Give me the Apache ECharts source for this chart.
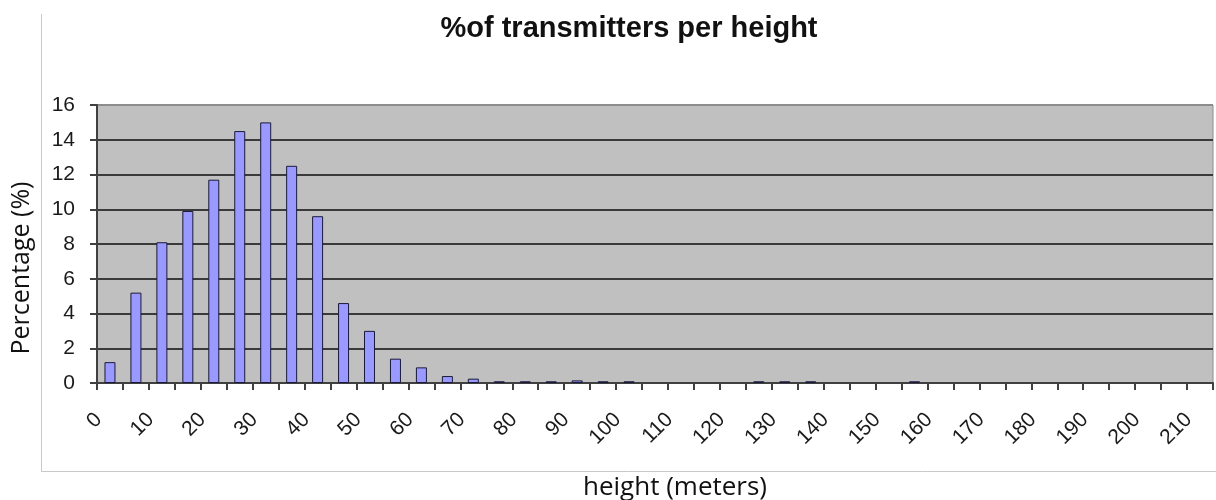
<!DOCTYPE html>
<html>
<head>
<meta charset="utf-8">
<style>
  html, body { margin: 0; padding: 0; background: #ffffff; }
  #chart { width: 1216px; height: 500px; }
</style>
<script src="https://cdn.jsdelivr.net/npm/echarts@6/dist/echarts.min.js"></script>
</head>
<body>
<div id="chart"></div>
<script>
// Transmitter heights, binned every 5 m
const heights = [
  0, 5, 10, 15, 20, 25, 30, 35, 40, 45, 50, 55, 60, 65, 70, 75, 80, 85, 90, 95,
  100, 105, 110, 115, 120, 125, 130, 135, 140, 145, 150, 155, 160, 165, 170, 175,
  180, 185, 190, 195, 200, 205, 210
];
// Share of transmitters in each bin (%); null = no transmitters in that bin
const percentages = [
  1.2, 5.2, 8.1, 9.9, 11.7, 14.5, 15.0, 12.5, 9.6, 4.6, 3.0, 1.4, 0.9, 0.4, 0.25, 0.1, 0.1, 0.1, 0.15, 0.1,
  0.1, null, null, null, null, 0.1, 0.1, 0.1, null, null, null, 0.1, null, null, null, null,
  null, null, null, null, null, null, null
];
const yTicks = { min: 0, max: 16, step: 2 };

const chart = echarts.init(document.getElementById('chart'));

const gridLineColors = ['#3a3a3a', '#3a3a3a', '#3a3a3a', '#3a3a3a', '#3a3a3a',
                        '#3a3a3a', '#3a3a3a', '#3a3a3a', '#8c8c8c'];

chart.setOption({
  animation: false,
  backgroundColor: '#ffffff',
  graphic: [
    {
      type: 'text',
      x: 629, y: 29,
      style: {
        text: '%of transmitters per height',
        fontFamily: '"Liberation Sans", Arial, sans-serif',
        fontWeight: 'bold',
        fontSize: 29,
        fill: '#111111',
        align: 'center',
        verticalAlign: 'middle'
      }
    },
    {
      type: 'line',
      shape: { x1: 41.5, y1: 14, x2: 41.5, y2: 471.5 },
      style: { stroke: '#c8c8c8', lineWidth: 1 }
    },
    {
      type: 'line',
      shape: { x1: 41.5, y1: 471.5, x2: 1216, y2: 471.5 },
      style: { stroke: '#c8c8c8', lineWidth: 1 }
    }
  ],
  grid: {
    left: 97, right: 3, top: 105, bottom: 117,
    outerBoundsMode: 'none',
    containLabel: false,
    show: true,
    backgroundColor: '#c0c0c0',
    borderColor: '#8c8c8c',
    borderWidth: 1
  },
  xAxis: {
    type: 'category',
    data: heights.map(String),
    boundaryGap: true,
    name: 'height (meters)',
    nameLocation: 'middle',
    nameGap: 92,
    nameTextStyle: {
      fontFamily: '"Open Sans", "Noto Sans", sans-serif',
      fontSize: 26,
      color: '#111111',
      padding: [0, 0, 0, 40]
    },
    axisLine: { show: true, lineStyle: { color: '#404040', width: 2 } },
    axisTick: { show: true, interval: 0, length: 7, lineStyle: { color: '#404040', width: 2 } },
    axisLabel: {
      interval: 1,
      rotate: 45,
      margin: 22,
      padding: [0, 16, 0, 0],
      fontFamily: '"Liberation Sans", Arial, sans-serif',
      fontSize: 21,
      color: '#1a1a1a'
    },
    splitLine: { show: false }
  },
  yAxis: {
    type: 'value',
    min: yTicks.min,
    max: yTicks.max,
    interval: yTicks.step,
    name: 'Percentage (%)',
    nameLocation: 'middle',
    nameRotate: 90,
    nameGap: 63,
    nameTextStyle: {
      fontFamily: '"Open Sans", "Noto Sans", sans-serif',
      fontSize: 25,
      color: '#111111',
      padding: [0, 48, 0, 0]
    },
    axisLine: { show: true, lineStyle: { color: '#404040', width: 2 } },
    axisTick: { show: true, length: 7, lineStyle: { color: '#404040', width: 2 } },
    axisLabel: {
      margin: 22,
      fontFamily: '"Liberation Sans", Arial, sans-serif',
      fontSize: 21,
      color: '#1a1a1a'
    },
    splitLine: { show: true, lineStyle: { color: gridLineColors, width: 2 } }
  },
  series: [
    {
      type: 'bar',
      data: percentages,
      barWidth: 11,
      itemStyle: {
        color: '#9999ff',
        borderColor: '#1a1a3a',
        borderWidth: 1
      }
    }
  ]
});
</script>
</body>
</html>
